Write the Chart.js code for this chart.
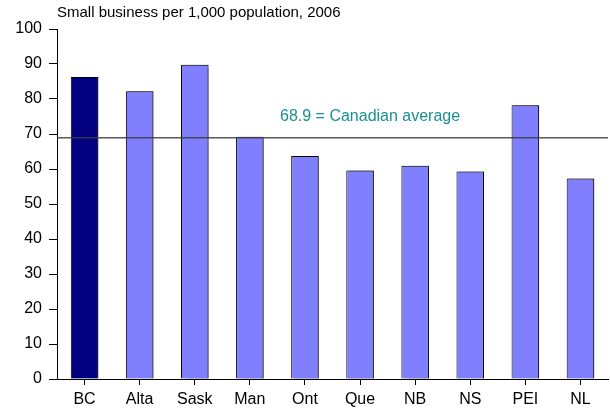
<!DOCTYPE html>
<html><head><meta charset="utf-8">
<script src="https://cdn.jsdelivr.net/npm/chart.js@4"></script>
<style>html,body{margin:0;padding:0;background:#fff;}#wrap{width:610px;height:410px;}</style>
</head><body><div id="wrap"><canvas id="c" width="610" height="410"></canvas></div>
<script>
const categories = ["BC","Alta","Sask","Man","Ont","Que","NB","NS","PEI","NL"];
const values = [86.3, 82.2, 89.8, 69.2, 63.7, 59.6, 60.9, 59.3, 78.2, 57.3];
const canadianAverage = 68.9;
const yTicks = [0,10,20,30,40,50,60,70,80,90,100];
const chartTitle = "Small business per 1,000 population, 2006";
const avgLabel = "68.9 = Canadian average";

const FONT = "'Liberation Sans', Arial, sans-serif";
const barColors = categories.map((c,i)=> i===0 ? "#000080" : "#8080FF");

const shadowPlugin = {
  id:'shadow',
  beforeDatasetDraw(chart){ const ctx=chart.ctx; ctx.save(); ctx.shadowColor='rgba(0,0,0,0.45)'; ctx.shadowOffsetX=2; ctx.shadowOffsetY=0; ctx.shadowBlur=1; },
  afterDatasetDraw(chart){ chart.ctx.restore(); }
};
const overlayPlugin = {
  id:'overlay',
  afterDatasetsDraw(chart){
    const ctx=chart.ctx, a=chart.chartArea, y=chart.scales.y.getPixelForValue(canadianAverage);
    ctx.save();
    ctx.strokeStyle='rgba(60,60,60,0.85)'; ctx.lineWidth=1.5;
    ctx.beginPath(); ctx.moveTo(a.left, y); ctx.lineTo(a.right, y); ctx.stroke();
    ctx.fillStyle='#1A9090'; ctx.font='16px '+FONT; ctx.textBaseline='middle'; ctx.textAlign='left';
    ctx.fillText(avgLabel, a.left+223, y-21);
    ctx.fillStyle='#000'; ctx.font='15px '+FONT;
    ctx.fillText(chartTitle, a.left, 13);
    ctx.restore();
  }
};

new Chart(document.getElementById('c'), {
  type:'bar',
  data:{ labels:categories, datasets:[{ data:values, backgroundColor:barColors, borderColor:'#000', borderWidth:1, barPercentage:0.5, categoryPercentage:1.0 }]},
  options:{
    responsive:false, animation:false, devicePixelRatio:1,
    layout:{ padding:{ left:0, right:2, top:29, bottom:0 } },
    plugins:{ legend:{display:false}, tooltip:{enabled:false}, title:{display:false} },
    scales:{
      x:{
        offset:true,
        grid:{ offset:false, drawOnChartArea:false, drawTicks:true, tickLength:6, color:'#000' },
        border:{ color:'#000', width:1 },
        ticks:{ color:'#000', font:{ family:FONT, size:16 }, padding:5, maxRotation:0 },
        afterFit(s){ s.height = 31; }
      },
      y:{
        min:0, max:100,
        afterBuildTicks(s){ s.ticks = yTicks.map(v=>({value:v})); },
        grid:{ drawOnChartArea:false, drawTicks:true, tickLength:8, color:'#000' },
        border:{ color:'#000', width:1 },
        ticks:{ color:'#000', font:{ family:FONT, size:16 }, padding:7 },
        afterFit(s){ s.width = 57; }
      }
    }
  },
  plugins:[shadowPlugin, overlayPlugin]
});
</script></body></html>
